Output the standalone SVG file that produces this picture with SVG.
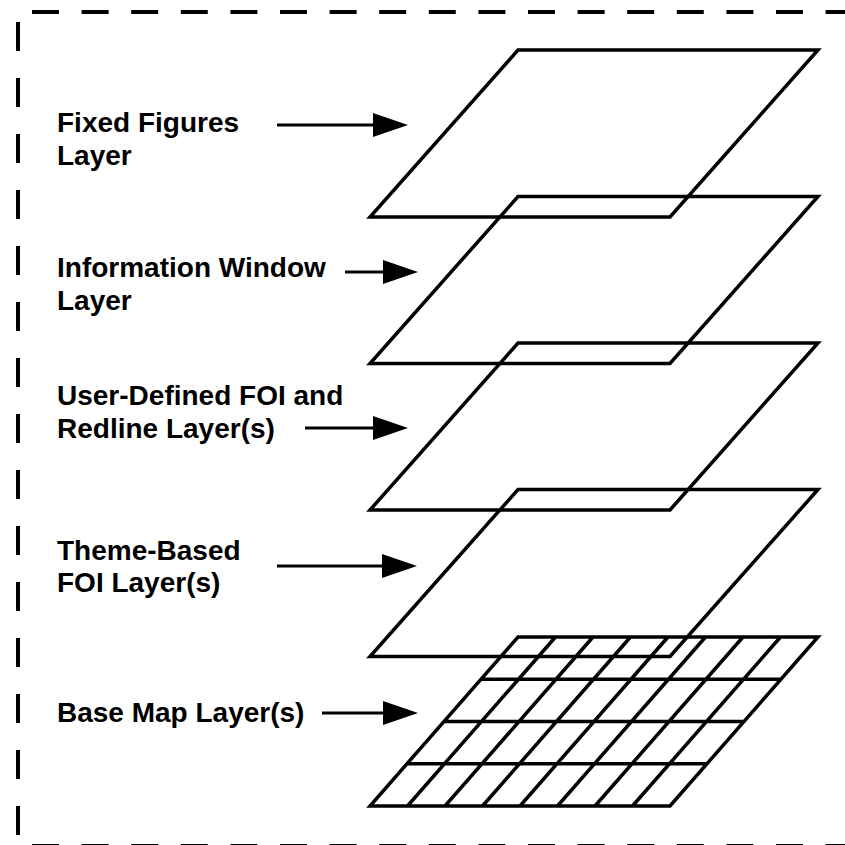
<svg xmlns="http://www.w3.org/2000/svg" width="845" height="845" viewBox="0 0 845 845">
<style>
.border{stroke:#000;stroke-width:4;fill:none}
.layer{stroke:#000;stroke-width:3.5;fill:none;stroke-linejoin:miter}
.grid{stroke:#000;stroke-width:3.5;fill:none}
.lbl{font-family:"Liberation Sans",Arial,sans-serif;font-weight:bold;font-size:28px;fill:#000}
.arr{stroke:#000;stroke-width:3;fill:none}
</style>
<defs>
<marker id="ah" markerUnits="userSpaceOnUse" markerWidth="40" markerHeight="30" refX="20" refY="12" orient="auto">
<path d="M0,0 L35,12 L0,24 Z" fill="#000"/>
</marker>
</defs>
<rect width="845" height="845" fill="#fff"/>
<g id="border">
<line class="border" x1="32" y1="12" x2="845" y2="12" stroke-dasharray="27 22.6"/>
<line class="border" x1="18" y1="22" x2="18" y2="845" stroke-dasharray="29 27"/>
<line class="border" x1="32" y1="846" x2="845" y2="846" stroke-dasharray="27 22.6"/>
</g>
<g id="layer-fixed"><path class="layer" d="M518,50 L818,50 L670,217 L370,217 Z"/></g>
<g id="layer-info"><path class="layer" d="M518,196.5 L818,196.5 L670,363.5 L370,363.5 Z"/></g>
<g id="layer-user"><path class="layer" d="M518,343 L818,343 L670,510 L370,510 Z"/></g>
<g id="layer-theme"><path class="layer" d="M518,489.5 L818,489.5 L670,656.5 L370,656.5 Z"/></g>
<g id="layer-base">
<path class="grid" d="M518,637 L818,637 L670,806 L370,806 Z
M481,679.25 L781,679.25 M444,721.5 L744,721.5 M407,763.75 L707,763.75
M555.5,637 L407.5,806 M593,637 L445,806 M630.5,637 L482.5,806 M668,637 L520,806
M705.5,637 L557.5,806 M743,637 L595,806 M780.5,637 L632.5,806"/>
</g>
<g id="labels">
<text class="lbl" x="57" y="132">Fixed Figures</text>
<text class="lbl" x="57" y="165">Layer</text>
<text class="lbl" x="57" y="277">Information Window</text>
<text class="lbl" x="57" y="310">Layer</text>
<text class="lbl" x="57" y="405">User-Defined FOI and</text>
<text class="lbl" x="57" y="438">Redline Layer(s)</text>
<text class="lbl" x="57" y="560">Theme-Based</text>
<text class="lbl" x="57" y="592">FOI Layer(s)</text>
<text class="lbl" x="57" y="722">Base Map Layer(s)</text>
</g>
<g id="connectors">
<line class="arr" x1="277" y1="125" x2="393" y2="125" marker-end="url(#ah)"/>
<line class="arr" x1="345" y1="272" x2="403" y2="272" marker-end="url(#ah)"/>
<line class="arr" x1="305" y1="428" x2="393" y2="428" marker-end="url(#ah)"/>
<line class="arr" x1="277" y1="566" x2="402" y2="566" marker-end="url(#ah)"/>
<line class="arr" x1="322" y1="713" x2="403" y2="713" marker-end="url(#ah)"/>
</g>
</svg>
